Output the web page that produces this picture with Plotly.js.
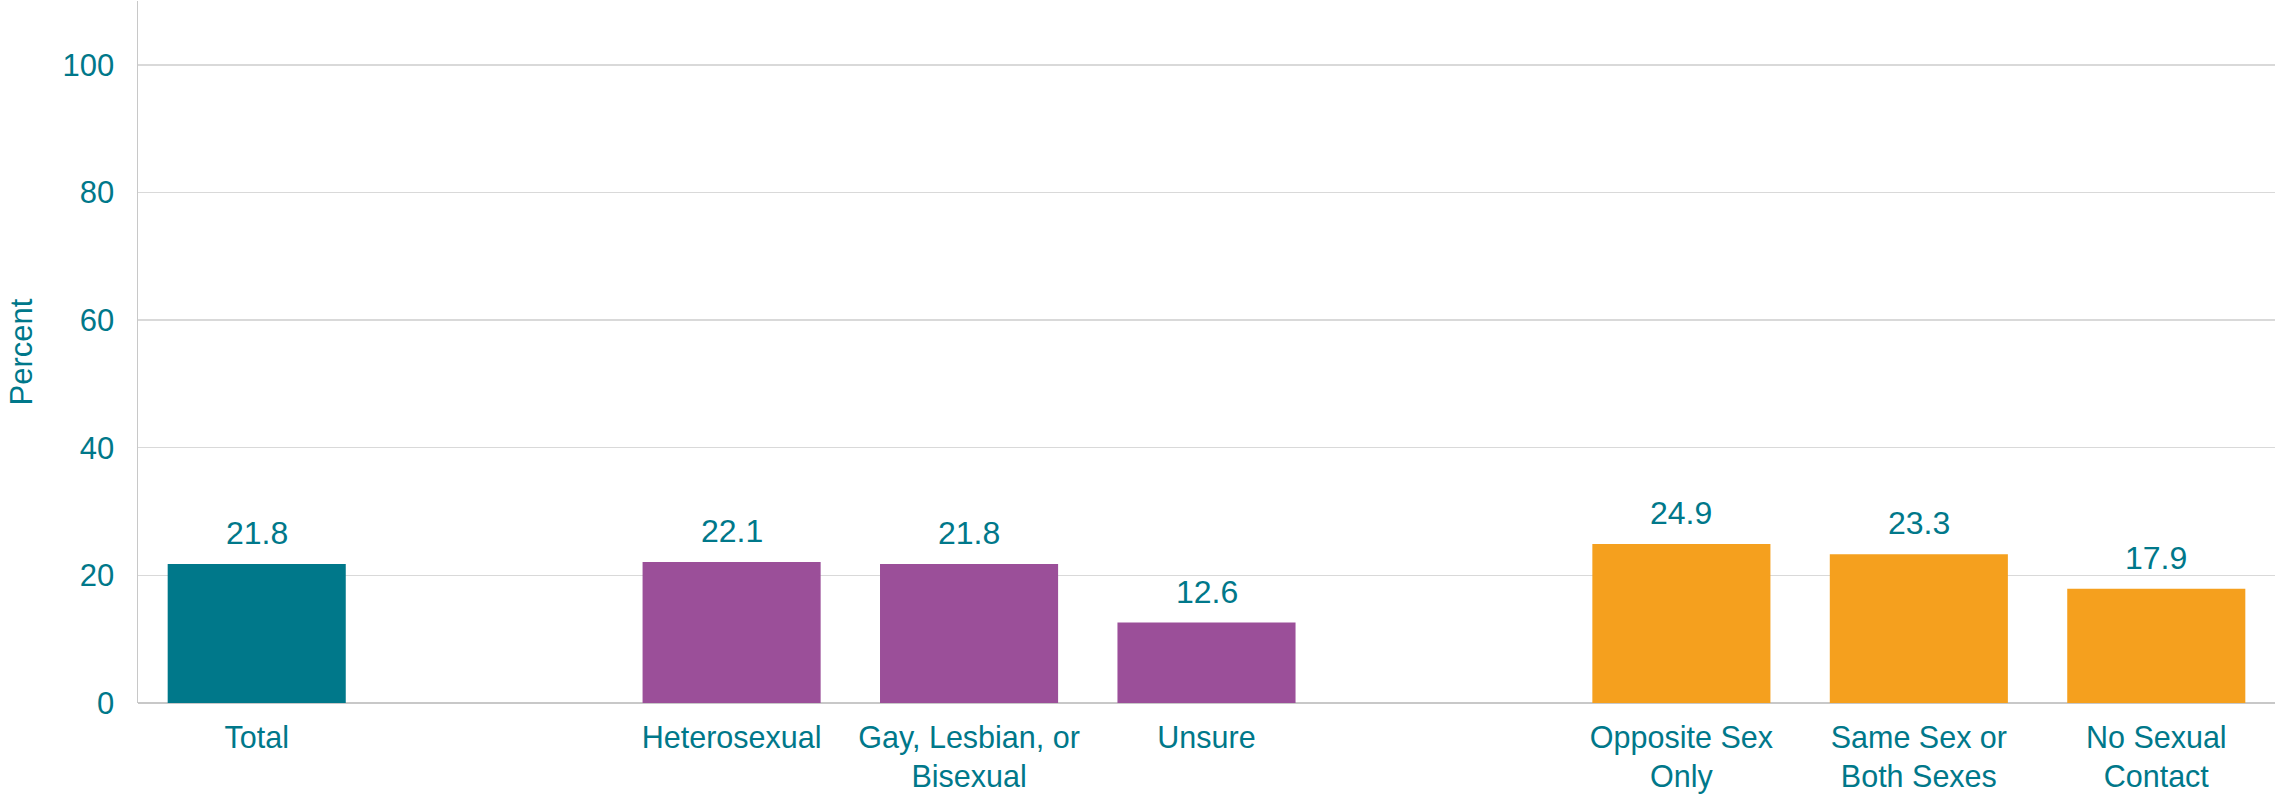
<!DOCTYPE html>
<html>
<head>
<meta charset="utf-8">
<script src="https://cdn.plot.ly/plotly-3.0.1.min.js"></script>
<style>html,body{margin:0;padding:0;background:#fff;}#chart{width:2275px;height:796px;}</style>
</head>
<body>
<div id="chart"></div>
<script>
// Categories (blank entries are spacer slots between groups)
const categories = ["Total", " ", "Heterosexual", "Gay, Lesbian, or<br>Bisexual", "Unsure", "  ",
  "Opposite Sex<br>Only", "Same Sex or<br>Both Sexes", "No Sexual<br>Contact"];
const values = [21.8, null, 22.1, 21.8, 12.6, null, 24.9, 23.3, 17.9];
const labels = ["21.8", "", "22.1", "21.8", "12.6", "", "24.9", "23.3", "17.9"];
const barColors = ["#00788A", "#ffffff", "#9B4F99", "#9B4F99", "#9B4F99", "#ffffff", "#F5A01E", "#F5A01E", "#F5A01E"];
const yTicks = [0, 20, 40, 60, 80, 100, 110];
const yTickText = ["0", "20", "40", "60", "80", "100", ""];

const textColor = "#00788A";
const fontFam = "Liberation Sans, Arial, sans-serif";

const annotations = [];
categories.forEach((c, i) => {
  if (values[i] !== null) {
    annotations.push({
      x: c, y: values[i], xref: "x", yref: "y",
      text: labels[i], showarrow: false, yanchor: "bottom", yshift: 11,
      font: {family: fontFam, size: 32, color: textColor}
    });
  }
});

const trace = {
  type: "bar",
  x: categories,
  y: values,
  marker: {color: barColors},
  hoverinfo: "skip"
};

const layout = {
  width: 2275, height: 796,
  margin: {l: 138, r: 0, t: 1, b: 93, pad: 0},
  paper_bgcolor: "#ffffff", plot_bgcolor: "#ffffff",
  bargap: 0.25,
  showlegend: false,
  font: {family: fontFam, size: 30, color: textColor},
  xaxis: {
    type: "category",
    categoryorder: "array", categoryarray: categories,
    showgrid: false, zeroline: false,
    showline: false,
    ticks: "", ticklabelstandoff: 13,
    tickfont: {family: fontFam, size: 30.5, color: textColor},
    fixedrange: true
  },
  yaxis: {
    range: [0, 110],
    tickvals: yTicks, ticktext: yTickText,
    showgrid: true, gridcolor: "#D9D9D9", gridwidth: 1.5,
    zeroline: true, zerolinecolor: "#C8C8C8", zerolinewidth: 1.5,
    showline: true, linecolor: "#C8C8C8", linewidth: 1.5,
    ticks: "", ticklabelstandoff: 16,
    tickfont: {family: fontFam, size: 31, color: textColor},
    title: {text: "Percent", font: {family: fontFam, size: 31, color: textColor}, standoff: 20},
    fixedrange: true
  },
  annotations: annotations
};

Plotly.newPlot("chart", [trace], layout, {displayModeBar: false, staticPlot: true});
</script>
</body>
</html>
